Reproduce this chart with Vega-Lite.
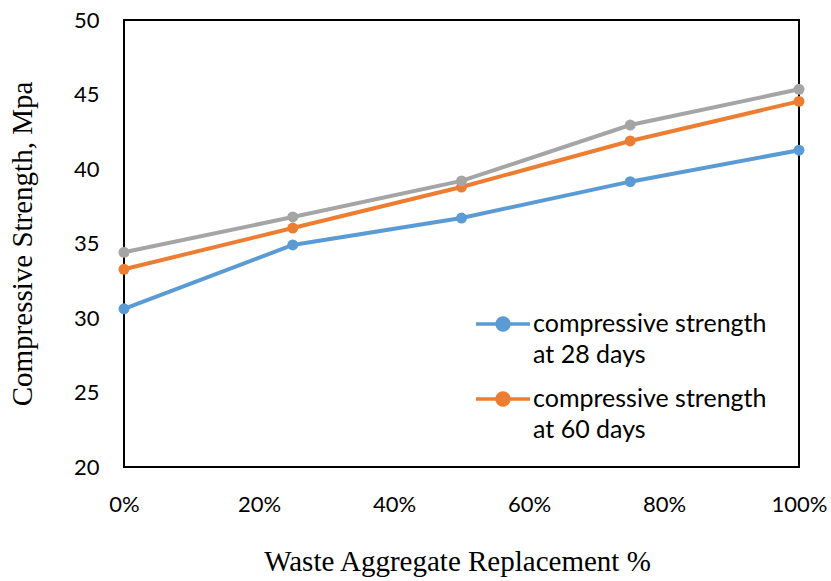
{
  "$schema": "https://vega.github.io/schema/vega-lite/v6.json",
  "width": 675,
  "height": 447,
  "autosize": {"type": "none"},
  "padding": {"left": 124, "top": 20, "right": 32, "bottom": 114},
  "background": "white",
  "config": {
    "view": {"stroke": "black", "strokeWidth": 2},
    "axis": {"grid": false, "ticks": false, "domain": false, "labelColor": "black", "titleColor": "black", "labelFlush": false}
  },
  "data": {
    "values": [
      {"r": 0, "s": 30.62, "series": "compressive strength at 28 days"},
      {"r": 0.25, "s": 34.9, "series": "compressive strength at 28 days"},
      {"r": 0.5, "s": 36.71, "series": "compressive strength at 28 days"},
      {"r": 0.75, "s": 39.15, "series": "compressive strength at 28 days"},
      {"r": 1, "s": 41.26, "series": "compressive strength at 28 days"},
      {"r": 0, "s": 33.27, "series": "compressive strength at 60 days"},
      {"r": 0.25, "s": 36.04, "series": "compressive strength at 60 days"},
      {"r": 0.5, "s": 38.79, "series": "compressive strength at 60 days"},
      {"r": 0.75, "s": 41.88, "series": "compressive strength at 60 days"},
      {"r": 1, "s": 44.54, "series": "compressive strength at 60 days"},
      {"r": 0, "s": 34.41, "series": "compressive strength at 90 days"},
      {"r": 0.25, "s": 36.78, "series": "compressive strength at 90 days"},
      {"r": 0.5, "s": 39.2, "series": "compressive strength at 90 days"},
      {"r": 0.75, "s": 42.95, "series": "compressive strength at 90 days"},
      {"r": 1, "s": 45.35, "series": "compressive strength at 90 days"}
    ]
  },
  "encoding": {
    "x": {
      "field": "r", "type": "quantitative",
      "scale": {"domain": [0, 1], "nice": false},
      "axis": {
        "values": [0, 0.2, 0.4, 0.6, 0.8, 1], "format": ".0%",
        "title": "Waste Aggregate Replacement %",
        "labelFont": "Lato", "labelFontSize": 22, "labelPadding": 27,
        "titleFont": "Liberation Serif", "titleFontSize": 29, "titleFontWeight": "normal", "titlePadding": 32, "titleX": 333
      }
    },
    "y": {
      "field": "s", "type": "quantitative",
      "scale": {"domain": [20, 50], "nice": false, "zero": false},
      "axis": {
        "values": [20, 25, 30, 35, 40, 45, 50],
        "title": "Compressive Strength, Mpa",
        "labelFont": "Lato", "labelFontSize": 22, "labelPadding": 25,
        "titleFont": "Liberation Serif", "titleFontSize": 29, "titleFontWeight": "normal", "titlePadding": 36
      }
    },
    "color": {
      "field": "series", "type": "nominal",
      "scale": {
        "domain": ["compressive strength at 28 days", "compressive strength at 60 days", "compressive strength at 90 days"],
        "range": ["#5B9BD5", "#ED7D31", "#A5A5A5"]
      },
      "legend": {
        "values": ["compressive strength at 28 days", "compressive strength at 60 days"],
        "title": null,
        "orient": "none",
        "legendX": 350,
        "legendY": 275,
        "labelExpr": "[slice(datum.label, 0, 20), slice(datum.label, 21)]",
        "labelFont": "Lato",
        "labelFontSize": 25,
        "labelLimit": 400,
        "labelOffset": 1,
        "labelBaseline": "middle",
        "symbolType": "M-1,0L1,0M0.22,0A0.22,0.22,0,1,1,-0.22,0A0.22,0.22,0,1,1,0.22,0",
        "symbolSize": 2916,
        "symbolStrokeWidth": 3.5,
        "rowPadding": 2,
        "encode": {
          "symbols": {"update": {"fill": {"scale": "color", "field": "value"}}},
          "labels": {"update": {"lineHeight": {"value": 31}}}
        }
      }
    }
  },
  "layer": [
    {"mark": {"type": "line", "strokeWidth": 4}},
    {"mark": {"type": "point", "filled": true, "size": 120, "opacity": 1}}
  ]
}
